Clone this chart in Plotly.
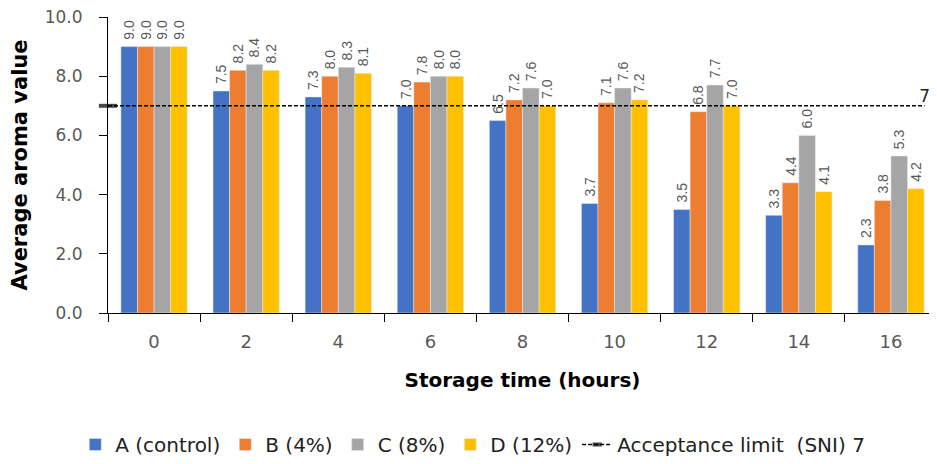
import plotly.graph_objects as go

categories = ["0", "2", "4", "6", "8", "10", "12", "14", "16"]
series_names = ["A (control)", "B (4%)", "C (8%)", "D (12%)"]
a_vals = [9.0, 7.5, 7.3, 7.0, 6.5, 3.7, 3.5, 3.3, 2.3]
b_vals = [9.0, 8.2, 8.0, 7.8, 7.2, 7.1, 6.8, 4.4, 3.8]
c_vals = [9.0, 8.4, 8.3, 8.0, 7.6, 7.6, 7.7, 6.0, 5.3]
d_vals = [9.0, 8.2, 8.1, 8.0, 7.0, 7.2, 7.0, 4.1, 4.2]
limit_name = "Acceptance limit  (SNI) 7"
limit_value = 7
colors = ["#4472C4", "#ED7D31", "#A5A5A5", "#FFC000"]

fig = go.Figure()
for name, vals, col in zip(series_names, [a_vals, b_vals, c_vals, d_vals], colors):
    fig.add_trace(go.Bar(
        x=categories, y=vals, name=name, marker_color=col,
        text=["\u00a0" + f"{v:.1f}" for v in vals], textposition="outside", textangle=-90,
        textfont=dict(size=14, color="#595959", family="Liberation Sans"),
        cliponaxis=False, constraintext="none",
    ))

fig.add_trace(go.Scatter(
    x=[0, 0.985], y=[limit_value, limit_value], xaxis="x2", name=limit_name,
    mode="lines+markers+text",
    line=dict(color="black", dash="4px,2px", width=1.5),
    marker=dict(symbol="line-ew", size=[13, 0], line=dict(color="black", width=4)),
    text=["", str(limit_value)], textposition="top center",
    textfont=dict(size=17, color="#222222", family="DejaVu Sans"),
    cliponaxis=False,
))

fig.update_layout(
    width=929, height=456,
    margin=dict(l=100, r=0, t=9, b=151),
    plot_bgcolor="white", paper_bgcolor="white",
    barmode="group", bargap=0.28, bargroupgap=0,
    font=dict(family="DejaVu Sans", color="#595959"),
    xaxis=dict(
        type="category", showline=True, linecolor="black", linewidth=1,
        ticks="outside", tickson="boundaries", ticklen=8, tickcolor="black",
        tickfont=dict(size=18, color="#595959"), showgrid=False, automargin=False,
        ticklabelstandoff=12, ticklabeloverflow="allow",
        title=dict(text="<b>Storage time (hours)</b>", font=dict(size=20, color="black"), standoff=22),
    ),
    xaxis2=dict(overlaying="x", range=[0, 1], visible=False),
    yaxis=dict(
        range=[0, 10], tickvals=[0, 2, 4, 6, 8, 10], tickformat=".1f",
        showline=True, linecolor="black", linewidth=1,
        ticks="outside", ticklen=8, tickcolor="black", showgrid=False, zeroline=False,
        tickfont=dict(size=17, color="#595959"), automargin=False,
        ticklabelstandoff=13, ticklabeloverflow="allow",
        title=dict(text="<b>Average aroma value</b>", font=dict(size=21, color="black"), standoff=18),
    ),
    legend=dict(
        orientation="h", x=0.44, xanchor="center", y=-0.446, yanchor="middle",
        font=dict(size=20, color="#222222", family="DejaVu Sans"),
        itemwidth=30, traceorder="normal",
    ),
    showlegend=True,
)

fig.write_html("out.html")
